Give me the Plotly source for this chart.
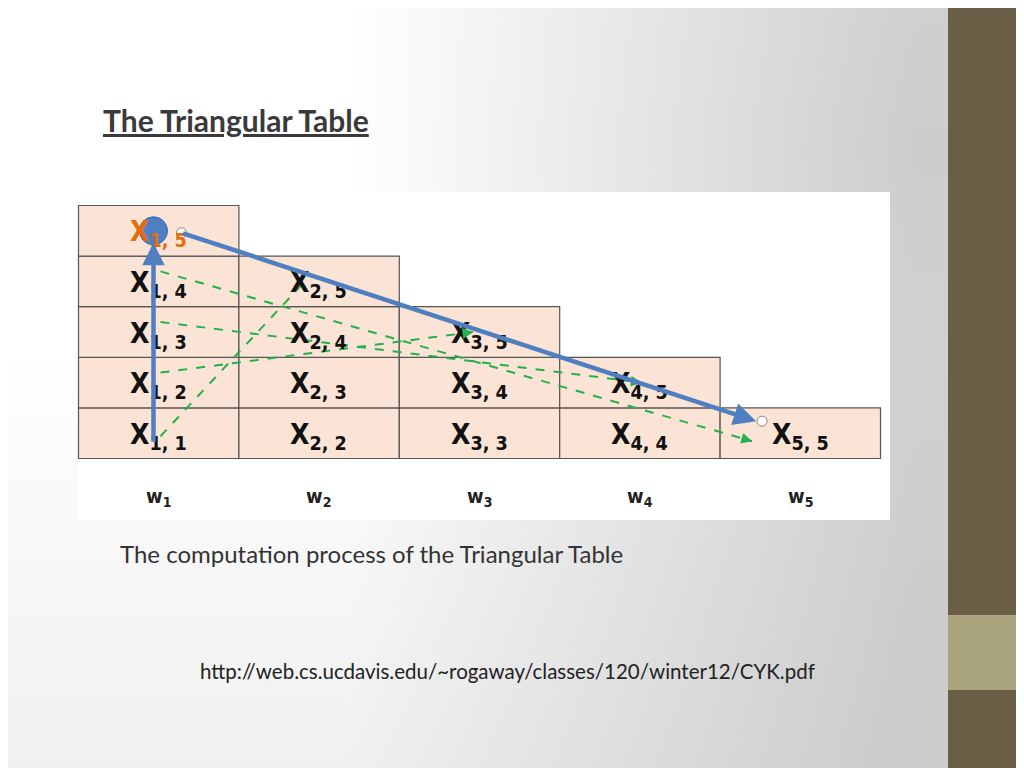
import numpy as np
import plotly.graph_objects as go

# ---- data ----
n_words = 5
words = ["w<sub>1</sub>", "w<sub>2</sub>", "w<sub>3</sub>", "w<sub>4</sub>", "w<sub>5</sub>"]
highlight_cell = (1, 5)
# green dashed dependencies: (source cell) -> (target cell)
green_src = [(1, 4), (1, 3), (1, 2), (1, 1)]
green_dst = [(5, 5), (4, 5), (3, 5), (2, 5)]
# blue path
blue_up = [(1, 1), (1, 5)]
blue_diag = [(1, 5), (5, 5)]
title = "The Triangular Table"
caption = "The computation process of the Triangular Table"
url = "http://web.cs.ucdavis.edu/~rogaway/classes/120/winter12/CYK.pdf"

# ---- geometry ----
X0, CW = 78.5, 160.4
YB, RH = 458.5, 50.6
def col_left(i): return X0 + (i - 1) * CW
def level(i, j): return j - i + 1
def row_top(i, j): return YB - level(i, j) * RH
def row_mid(i, j): return row_top(i, j) + RH / 2

LABEL_FONT = "DejaVu Sans Condensed, DejaVu Sans"

fig = go.Figure()

# background gradient
gx = np.linspace(0, 1040, 70)
gy = np.linspace(0, 780, 40)
GX, GY = np.meshgrid(gx, gy)
Z = np.clip((GX - 350) / 560, 0, 1) * (1.0 - 0.3 * np.abs(GY - 150) / 768) + np.clip((GY - 350) / 420, 0, 1) * 0.3
fig.add_trace(go.Heatmap(x=gx, y=gy, z=Z, zsmooth="best", showscale=False, hoverinfo="skip",
                         colorscale=[[0, "#ffffff"], [1, "#cdcdcd"]], zmin=0, zmax=1))

shapes = []
shapes.append(dict(type="rect", x0=948, x1=1040, y0=-10, y1=790, fillcolor="#6b5e47", line_width=0, layer="above"))
shapes.append(dict(type="rect", x0=948, x1=1040, y0=615, y1=690, fillcolor="#aaa57f", line_width=0, layer="above"))
shapes.append(dict(type="rect", x0=78, x1=890, y0=192, y1=520, fillcolor="white", line_width=0, layer="above"))

annos = []
for i in range(1, n_words + 1):
    for j in range(i, n_words + 1):
        x0 = col_left(i); y0 = row_top(i, j)
        shapes.append(dict(type="rect", x0=x0, x1=x0 + CW, y0=y0, y1=y0 + RH,
                           fillcolor="#fbe4d5", line=dict(color="#555555", width=1.2), layer="above"))
        col = "#e46c0a" if (i, j) == highlight_cell else "#111111"
        annos.append(dict(x=x0 + 80, y=y0 + RH / 2 + 3, xref="x", yref="y", showarrow=False,
                          text=f"<b>X<sub>{i}, {j}</sub></b>",
                          font=dict(family=LABEL_FONT, size=28, color=col)))
    annos.append(dict(x=col_left(i) + 80, y=497, xref="x", yref="y", showarrow=False, text=f"<b>{words[i - 1]}</b>",
                      font=dict(family=LABEL_FONT, size=20, color="#222")))

green = "#22b14c"
def src_pt(c): return (col_left(c[0]) + 82, row_mid(*c) + (-10 if c[1] > 1 else 3))
def dst_pt(c): return (col_left(c[0]) + (32 if c[0] == 5 else 50 + 8 * c[0]), row_mid(*c) + (8 if c[0] == 5 else 0))
for s, d in zip(green_src, green_dst):
    (sx, sy), (dx, dy) = src_pt(s), dst_pt(d)
    shapes.append(dict(type="line", x0=sx, y0=sy, x1=dx, y1=dy, line=dict(color=green, width=2, dash="dash"), layer="above"))
    annos.append(dict(x=dx, y=dy, ax=dx - (dx - sx) * 0.02, ay=dy - (dy - sy) * 0.02, xref="x", yref="y",
                      axref="x", ayref="y", showarrow=True, arrowhead=2, arrowsize=1.2, arrowwidth=1.8,
                      arrowcolor=green, text=""))

blue = "#4f7fc0"
bx = col_left(1) + 75
annos.append(dict(x=bx, y=row_mid(*blue_up[1]) + 12, ax=bx, ay=row_mid(*blue_up[0]) + 10, xref="x", yref="y",
                  axref="x", ayref="y", showarrow=True, arrowhead=2, arrowsize=1, arrowwidth=4.5, arrowcolor=blue, text=""))
sx, sy = col_left(1) + 103, row_mid(*blue_diag[0]) + 2
dx, dy = col_left(5) + 40, row_mid(*blue_diag[1]) - 12
annos.append(dict(x=dx - 4, y=dy, ax=sx, ay=sy, xref="x", yref="y", axref="x", ayref="y", showarrow=True,
                  arrowhead=2, arrowsize=1, arrowwidth=4.5, arrowcolor=blue, text=""))
shapes.append(dict(type="circle", x0=bx - 14, x1=bx + 14, y0=row_mid(*highlight_cell) - 14, y1=row_mid(*highlight_cell) + 14,
                   fillcolor=blue, line=dict(color="#3a6aa8", width=1), layer="above"))
for (cx, cy) in [(sx, sy), (dx + 2, dy)]:
    shapes.append(dict(type="circle", x0=cx - 5, x1=cx + 5, y0=cy - 5, y1=cy + 5, fillcolor="white",
                       line=dict(color="#888", width=1), layer="above"))

annos.append(dict(x=101, y=120, xref="x", yref="y", xanchor="left", showarrow=False,
                  text=f"<b><u>{title}</u></b>", font=dict(family="Lato", size=30, color="#3a3a3a")))
annos.append(dict(x=118, y=553, xref="x", yref="y", xanchor="left", showarrow=False,
                  text=caption, font=dict(family="Lato", size=24, color="#333")))
annos.append(dict(x=198, y=671, xref="x", yref="y", xanchor="left", showarrow=False,
                  text=url, font=dict(family="Lato", size=20.5, color="#222")))

# compensate for the 8px page margin
fig.update_layout(width=1024, height=768, margin=dict(l=0, r=0, t=0, b=0), shapes=shapes, annotations=annos,
                  xaxis=dict(range=[8, 1032], visible=False, fixedrange=True),
                  yaxis=dict(range=[776, 8], visible=False, fixedrange=True),
                  plot_bgcolor="white", paper_bgcolor="white", showlegend=False)
fig.write_html("out.html", config={"displayModeBar": False})
